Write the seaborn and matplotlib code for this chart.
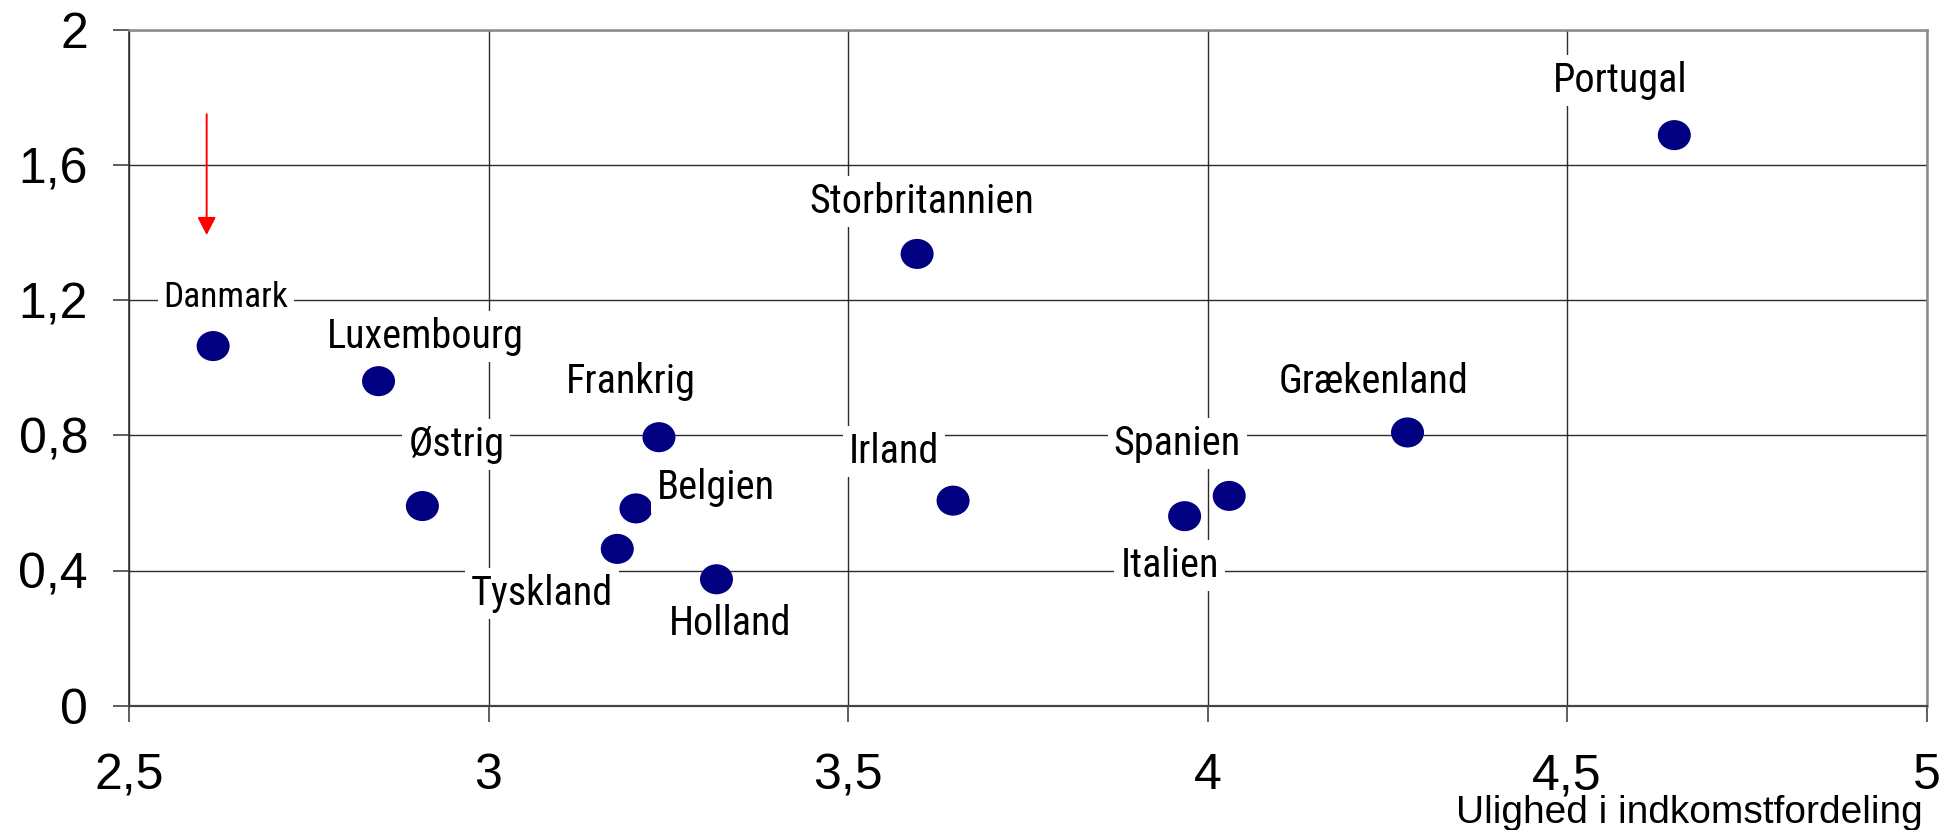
import matplotlib
matplotlib.use("Agg")
import matplotlib.pyplot as plt
from matplotlib import font_manager as fm
from matplotlib.path import Path
import numpy as np
import pandas as pd
import seaborn as sns

# Country values: income inequality (x) and the indicator on the y axis
countries = ["Danmark", "Luxembourg", "Østrig", "Frankrig", "Belgien", "Tyskland",
             "Holland", "Storbritannien", "Irland", "Italien", "Spanien",
             "Grækenland", "Portugal"]
inequality = [2.617, 2.847, 2.908, 3.237, 3.205, 3.179, 3.317, 3.596, 3.646,
              3.968, 4.030, 4.278, 4.649]
indicator = [1.065, 0.961, 0.591, 0.795, 0.584, 0.464, 0.374, 1.338, 0.607,
             0.561, 0.621, 0.809, 1.690]

x_ticks = [2.5, 3.0, 3.5, 4.0, 4.5, 5.0]
x_tick_labels = ["2,5", "3", "3,5", "4", "4,5", "5"]
y_ticks = [0.0, 0.4, 0.8, 1.2, 1.6, 2.0]
y_tick_labels = ["0", "0,4", "0,8", "1,2", "1,6", "2"]
x_title = "Ulighed i indkomstfordeling"

# Label placement relative to each marker: (dx, dy) in pixels to the text
# baseline, and the horizontal anchor of the text
label_offsets = {
    "Danmark": (13, 39, "center"), "Luxembourg": (47, 33, "center"),
    "Østrig": (34, 50, "center"), "Frankrig": (-28, 44, "center"),
    "Belgien": (21, 9, "left"), "Tyskland": (-4, -56, "right"),
    "Holland": (14, -56, "center"), "Storbritannien": (5, 41, "center"),
    "Irland": (-14, 38, "right"), "Italien": (-15, -61, "center"),
    "Spanien": (-52, 41, "center"), "Grækenland": (-34, 39, "center"),
    "Portugal": (-54, 43, "center"),
}

# Red downward arrow in the upper-left corner (data coordinates)
arrow_x, arrow_top, arrow_tip = 2.608, 1.752, 1.394

sns.set_style("white")
plt.rcParams["font.family"] = ["Liberation Sans", "DejaVu Sans"]
plt.rcParams["text.color"] = "black"

# Country names are set in a narrow sans face when one is installed
available = {f.name for f in fm.fontManager.ttflist}
narrow = next((n for n in ["Liberation Sans Narrow", "Arial Narrow",
                           "Nimbus Sans Narrow", "Roboto Condensed",
                           "Open Sans Condensed"] if n in available), None)
if narrow:
    label_family = [narrow, "Liberation Sans", "DejaVu Sans"]
    label_size, small_label_size = 29, 25.5
else:
    label_family = ["Liberation Sans", "DejaVu Sans"]
    label_size, small_label_size = 27, 23.8

fig = plt.figure(figsize=(19.42, 8.30), dpi=100)
ax = fig.add_axes([129 / 1942, 124.5 / 830, 1797.7 / 1942, 675 / 830])

# Slightly flattened round marker
circle = Path.unit_circle()
dot = Path(circle.vertices * np.array([1.0, 0.91]), circle.codes)

df = pd.DataFrame({"x": inequality, "y": indicator, "land": countries})
sns.scatterplot(data=df, x="x", y="y", ax=ax, marker=dot, s=565,
                color="#000080", edgecolor="none", linewidth=0,
                zorder=3, legend=False)

ax.set_xlim(2.5, 5.0)
ax.set_ylim(0.0, 2.0)
ax.set_xticks(x_ticks, x_tick_labels)
ax.set_yticks(y_ticks, y_tick_labels)
ax.set_xlabel("")
ax.set_ylabel("")

ax.set_axisbelow(True)
ax.grid(True, color="#2b2b2b", linewidth=1.0)
ax.tick_params(bottom=True, left=True, direction="out", length=11.5,
               width=1.1, color="#333333", labelsize=36, labelcolor="black")
ax.tick_params(axis="x", pad=23)
ax.tick_params(axis="y", pad=18)

for side in ("top", "right"):
    ax.spines[side].set_color("#8a8a8a")
    ax.spines[side].set_linewidth(1.8)
ax.spines["left"].set_color("#333333")
ax.spines["left"].set_linewidth(1.2)
ax.spines["bottom"].set_color("#444444")
ax.spines["bottom"].set_linewidth(1.6)

for name, xv, yv in zip(countries, inequality, indicator):
    dx, dy, anchor = label_offsets[name]
    size = small_label_size if name == "Danmark" else label_size
    ax.annotate(name, (xv, yv), xytext=(dx, dy), textcoords="offset pixels",
                ha=anchor, va="baseline", color="black",
                fontsize=size, family=label_family, zorder=5,
                bbox=dict(boxstyle="square,pad=0.15", fc="white", ec="none"))

ax.annotate("", xy=(arrow_x, arrow_tip), xytext=(arrow_x, arrow_top),
            arrowprops=dict(arrowstyle="-|>,head_length=1.0,head_width=0.52",
                            mutation_scale=10.8, color="red", lw=1.4,
                            shrinkA=0, shrinkB=0), zorder=4)

fig.text(1923 / 1942, 7 / 830, x_title, ha="right", va="baseline",
         fontsize=28, color="black")

fig.savefig("out.png", dpi=100)
